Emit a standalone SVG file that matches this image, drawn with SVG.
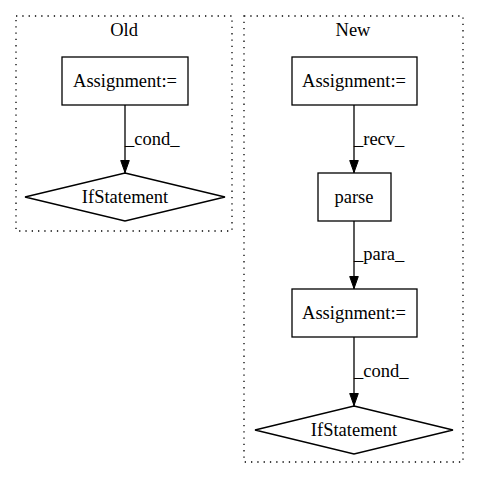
<svg xmlns="http://www.w3.org/2000/svg" width="480" height="480" viewBox="0 0 480 480">
<defs>
<style>
text{font-family:"Liberation Serif","Times New Roman",serif;font-size:18.5px;fill:#000}
.c{text-anchor:middle}
.cl{fill:none;stroke:#000;stroke-width:1.3;stroke-dasharray:1.3,5}
.n{fill:#fff;stroke:#000;stroke-width:1.3}
.e{fill:none;stroke:#000;stroke-width:1.3}
</style>
<marker id="ah" viewBox="0 0 13 10" refX="13" refY="5" markerWidth="13" markerHeight="10" markerUnits="userSpaceOnUse" orient="auto">
<path d="M0.5,0.7 L12.5,5 L0.5,9.3 Z" fill="#000" stroke="#000" stroke-width="1"/>
</marker>
</defs>
<rect width="480" height="480" fill="#fff"/>
<g id="cluster_old">
<rect class="cl" x="16" y="16" width="216" height="215"/>
<text class="c" x="124" y="36">Old</text>
</g>
<g id="cluster_new">
<rect class="cl" x="244" y="16" width="219" height="446"/>
<text class="c" x="353" y="36">New</text>
</g>
<g id="connectors">
<line class="e" x1="125" y1="105" x2="125" y2="173" marker-end="url(#ah)"/>
<text x="125" y="145">_cond_</text>
<line class="e" x1="354" y1="105" x2="354" y2="173" marker-end="url(#ah)"/>
<text x="354" y="145">_recv_</text>
<line class="e" x1="354" y1="221" x2="354" y2="289" marker-end="url(#ah)"/>
<text x="354" y="260">_para_</text>
<line class="e" x1="354" y1="337" x2="354" y2="406" marker-end="url(#ah)"/>
<text x="354" y="377">_cond_</text>
</g>
<g id="old_assign">
<rect class="n" x="62" y="57" width="126" height="48"/>
<text class="c" x="125" y="87">Assignment:=</text>
</g>
<g id="old_if">
<polygon class="n" points="125,173 225,197 125,221 25,197"/>
<text class="c" x="125" y="203">IfStatement</text>
</g>
<g id="new_assign1">
<rect class="n" x="292" y="57" width="125" height="48"/>
<text class="c" x="354" y="87">Assignment:=</text>
</g>
<g id="new_parse">
<rect class="n" x="318" y="173" width="73" height="48"/>
<text class="c" x="354" y="203">parse</text>
</g>
<g id="new_assign2">
<rect class="n" x="292" y="289" width="125" height="48"/>
<text class="c" x="354" y="319">Assignment:=</text>
</g>
<g id="new_if">
<polygon class="n" points="354,406 453,430 354,454 255,430"/>
<text class="c" x="354" y="436">IfStatement</text>
</g>
</svg>
